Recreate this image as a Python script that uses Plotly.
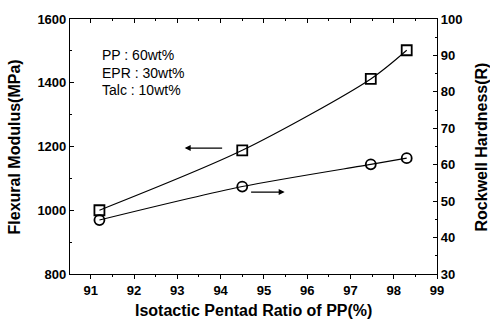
import plotly.graph_objects as go

# Data
pentad = [91.2, 94.5, 97.47, 98.3]
flexural_modulus = [1000, 1188, 1412, 1502]
rockwell_hardness = [44.8, 54.0, 60.1, 61.8]

x_ticks = [91, 92, 93, 94, 95, 96, 97, 98, 99]
composition = ["PP : 60wt%", "EPR : 30wt%", "Talc : 10wt%"]

FONT = "Arial, Liberation Sans, sans-serif"

fig = go.Figure()

fig.add_trace(go.Scatter(
    x=pentad, y=flexural_modulus, mode="lines+markers",
    line=dict(color="black", width=1.1, shape="spline", smoothing=0.8),
    marker=dict(symbol="square-open", size=10, color="black", line=dict(width=1.8)),
    xaxis="x", yaxis="y", showlegend=False,
))
fig.add_trace(go.Scatter(
    x=pentad, y=rockwell_hardness, mode="lines+markers",
    line=dict(color="black", width=1.1, shape="spline", smoothing=0.8),
    marker=dict(symbol="circle-open", size=10, color="black", line=dict(width=1.8)),
    xaxis="x", yaxis="y2", showlegend=False,
))

axis_common = dict(showline=True, linecolor="black", linewidth=1.2, showgrid=False,
                   zeroline=False, tickcolor="black",
                   tickfont=dict(family=FONT, size=13, color="black", weight="bold"))

fig.update_layout(
    width=490, height=322,
    margin=dict(l=70, r=53, t=16, b=48),
    paper_bgcolor="white", plot_bgcolor="white",
    xaxis=dict(range=[90.52, 99], tickvals=x_ticks, ticks="outside", ticklen=4,
               minor=dict(dtick=0.5, ticks="outside", ticklen=2, tickcolor="black"),
               **axis_common),
    xaxis2=dict(range=[90.52, 99], overlaying="x", side="top", tickvals=x_ticks,
                ticks="inside", ticklen=4, showticklabels=False,
                minor=dict(dtick=0.5, ticks="inside", ticklen=2, tickcolor="black"),
                **axis_common),
    yaxis=dict(range=[800, 1600], dtick=200, ticks="inside", ticklen=4,
               minor=dict(dtick=100, ticks="inside", ticklen=2, tickcolor="black"),
               **axis_common),
    yaxis2=dict(range=[30, 100], dtick=10, overlaying="y", side="right", ticks="inside", ticklen=4,
                minor=dict(dtick=5, ticks="inside", ticklen=2, tickcolor="black"),
                **axis_common),
)

# dummy trace for top axis so it renders
fig.add_trace(go.Scatter(x=[None], y=[None], xaxis="x2", yaxis="y", showlegend=False))

annotations = []
for i, t in enumerate(composition):
    annotations.append(dict(x=0.082, y=0.860 - i * 0.07, xref="paper", yref="paper",
                            text=t, showarrow=False, xanchor="left", yanchor="middle",
                            font=dict(family=FONT, size=14, color="black")))

# axis titles
annotations.append(dict(x=0.5, y=-0.143, xref="paper", yref="paper",
                        text="Isotactic Pentad Ratio of PP(%)", showarrow=False,
                        xanchor="center", yanchor="middle",
                        font=dict(family=FONT, size=16, color="black", weight="bold")))
annotations.append(dict(x=-0.15, y=0.5, xref="paper", yref="paper",
                        text="Flexural Modulus(MPa)", showarrow=False, textangle=-90,
                        xanchor="center", yanchor="middle",
                        font=dict(family=FONT, size=16, color="black", weight="bold")))
annotations.append(dict(x=1.1226, y=0.5, xref="paper", yref="paper",
                        text="Rockwell Hardness(R)", showarrow=False, textangle=-90,
                        xanchor="center", yanchor="middle",
                        font=dict(family=FONT, size=16, color="black", weight="bold")))

# arrows indicating which axis each curve belongs to
annotations.append(dict(x=93.17, y=1195, ax=94.07, ay=1195, xref="x", yref="y",
                        axref="x", ayref="y", text="", showarrow=True,
                        arrowhead=2, arrowsize=1, arrowwidth=1.2, arrowcolor="black"))
annotations.append(dict(x=95.48, y=1057, ax=94.67, ay=1057, xref="x", yref="y",
                        axref="x", ayref="y", text="", showarrow=True,
                        arrowhead=2, arrowsize=1, arrowwidth=1.2, arrowcolor="black"))

fig.update_layout(annotations=annotations)

fig.write_html("out.html", config={"displayModeBar": False},
               post_script="document.body.style.margin='0';")
